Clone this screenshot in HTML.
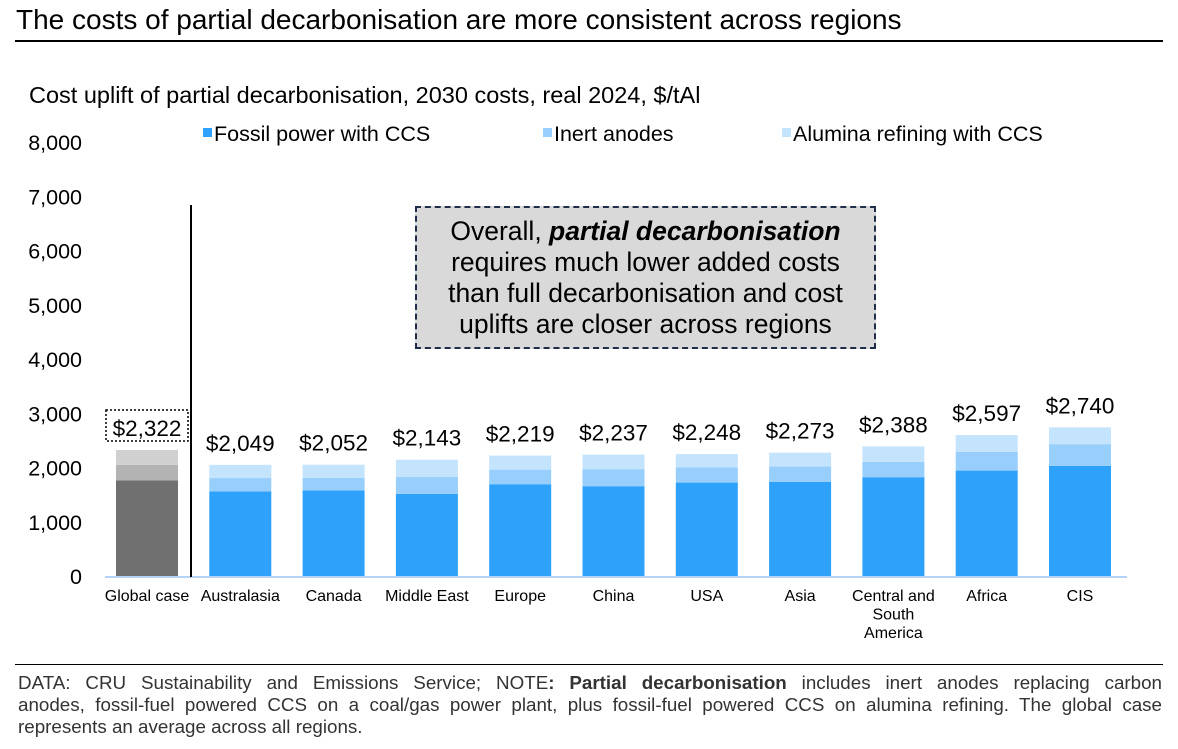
<!DOCTYPE html>
<html><head><meta charset="utf-8"><style>
body{margin:0;width:1178px;height:749px;background:#fff;font-family:"Liberation Sans",sans-serif;overflow:hidden;position:relative}
.t{position:absolute;white-space:nowrap}
.fl{display:block;text-align:justify;text-align-last:justify}
</style></head><body>
<div class="t" style="left:16px;top:4px;font-size:28px;color:#000">The costs of partial decarbonisation are more consistent across regions</div>
<div style="position:absolute;left:15px;top:40px;width:1148px;height:2px;background:#000"></div>
<div class="t" style="left:29px;top:82px;font-size:23.5px">Cost uplift of partial decarbonisation, 2030 costs, real 2024, $/tAl</div>
<svg id="c" width="1178" height="749" style="position:absolute;left:0;top:0"></svg>
<div style="position:absolute;left:415px;top:206px;background:#d9d9d9;border:2.5px dashed #1f2d4a;font-size:26.5px;text-align:center;line-height:31px;padding-top:8px;box-sizing:border-box;width:461px;height:143px">Overall, <b><i>partial decarbonisation</i></b><br>requires much lower added costs<br>than full decarbonisation and cost<br>uplifts are closer across regions</div>
<div style="position:absolute;left:15px;top:664px;width:1148px;height:1px;background:#000"></div>
<div style="position:absolute;left:18px;top:672px;width:1144px;font-size:18.8px;line-height:22px;color:#333"><span class="fl">DATA: CRU Sustainability and Emissions Service; NOTE<b>: Partial decarbonisation</b> includes inert anodes replacing carbon</span><span class="fl">anodes, fossil-fuel powered CCS on a coal/gas power plant, plus fossil-fuel powered CCS on alumina refining. The global case</span><span style="display:block">represents an average across all regions.</span></div>
<script>
const categories=["Global case","Australasia","Canada","Middle East","Europe","China","USA","Asia","Central and|South|America","Africa","CIS"];
const fossil=[1760,1560,1580,1513,1692,1655,1722,1734,1821,1943,2030];
const inert=[290,245,230,313,269,314,283,283,282,345,400];
const alumina=[272,244,242,317,258,268,243,256,285,309,310];
const totals=["$2,322","$2,049","$2,052","$2,143","$2,219","$2,237","$2,248","$2,273","$2,388","$2,597","$2,740"];
const yTicks=[0,1000,2000,3000,4000,5000,6000,7000,8000];
const NS="http://www.w3.org/2000/svg",svg=document.getElementById('c');
const y=v=>576-v*0.05425, x=i=>147+i*93.3, bw=62;
function mk(t,a,txt){const e=document.createElementNS(NS,t);for(const k in a)e.setAttribute(k,a[k]);if(txt!=null)e.textContent=txt;svg.appendChild(e);return e;}
yTicks.forEach(v=>{const e=mk('text',{x:82,y:y(v)+8,'text-anchor':'end','font-size':21.5,fill:'#000'},v.toLocaleString('en-US'));

});
const cols=[["#707070","#b3b3b3","#d0d0d0"],["#2ea1fb","#97cefc","#c4e3fd"]];
categories.forEach((c,i)=>{const cc=i==0?cols[0]:cols[1];let base=0;
[fossil[i],inert[i],alumina[i]].forEach((v,k)=>{const r=mk('rect',{x:x(i)-bw/2,y:y(base+v),width:bw,height:y(base)-y(base+v),fill:cc[k]});

base+=v;});
const tv=mk('text',{x:x(i),y:y(base)-14,'text-anchor':'middle','font-size':22.5,fill:'#000'},totals[i]);


if(i==0){const b=mk('rect',{x:x(i)-41,y:y(base)-40,width:82,height:31,fill:'none',stroke:'#000','stroke-width':1.5,'stroke-dasharray':'2 2'});

}
c.split('|').forEach((p,j)=>{const l=mk('text',{x:x(i),y:601+j*18.5,'text-anchor':'middle','font-size':16,fill:'#000'},p);

});});
const ax=mk('line',{x1:105,x2:1127,y1:577,y2:577,stroke:'#b4d3f5','stroke-width':2});


const dv=mk('line',{x1:191,x2:191,y1:205,y2:577,stroke:'#000','stroke-width':2});


[["Fossil power with CCS",203,"#2ea1fb"],["Inert anodes",543,"#97cefc"],["Alumina refining with CCS",782,"#c4e3fd"]].forEach(l=>{
const s=mk('rect',{x:l[1],y:128,width:9,height:9,fill:l[2]});


const t=mk('text',{x:l[1]+11,y:141,'font-size':21.5,fill:'#000'},l[0]);

});
</script>
</body></html>
